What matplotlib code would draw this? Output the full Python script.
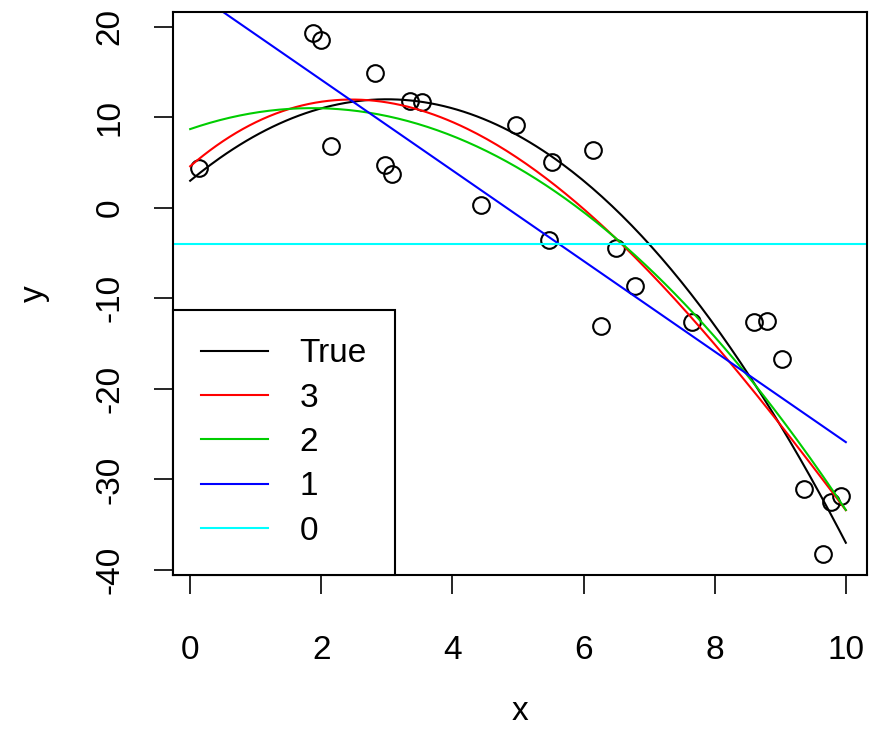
import numpy as np
import matplotlib
matplotlib.use("Agg")
import matplotlib.pyplot as plt

plt.rcParams['font.family'] = ['Liberation Sans', 'DejaVu Sans']
plt.rcParams['axes.unicode_minus'] = False

x = [0.13, 1.88, 1.99, 2.15, 2.82, 2.97, 3.08, 3.35, 3.54, 4.44, 4.97, 5.47, 5.52,
     6.14, 6.27, 6.50, 6.79, 7.66, 8.60, 8.80, 9.03, 9.36, 9.65, 9.77, 9.93]
y = [4.41, 19.34, 18.53, 6.80, 14.92, 4.78, 3.78, 11.78, 11.71, 0.27, 9.20, -3.52, 5.03,
     6.43, -13.03, -4.44, -8.61, -12.63, -12.56, -12.45, -16.72, -31.10, -38.26, -32.47, -31.84]

# true curve coefficients (highest power first)
true_coef = [-1, 6, 3]
# cubic fit (lowest power first)
cubic_coef = [4.6, 6.242, -1.4219, 0.04177]

labels = ['True', '3', '2', '1', '0']
colors = ['black', 'red', '#00CD00', 'blue', 'cyan']

xs = np.linspace(0, 10, 200)

fig = plt.figure(figsize=(8.84, 7.46), dpi=100)
ax = fig.add_axes([0.1957, 0.2292, 0.785, 0.7547])

ax.plot(x, y, 'o', mfc='none', mec='black', ms=12, mew=1.5)
ax.plot(xs, np.polyval(true_coef, xs), color=colors[0], lw=1.5, label=labels[0])
ax.plot(xs, np.polynomial.polynomial.polyval(xs, cubic_coef), color=colors[1], lw=1.5, label=labels[1])
ax.plot(xs, np.polyval(np.polyfit(x, y, 2), xs), color=colors[2], lw=1.5, label=labels[2])
ax.plot(xs, np.polyval(np.polyfit(x, y, 1), xs), color=colors[3], lw=1.5, label=labels[3])
ax.axhline(np.mean(y), color=colors[4], lw=1.5, label=labels[4])

xr = max(x) - min(x)
yr = max(y) - min(y)
ax.set_xlim(min(x) - 0.04 * xr, max(x) + 0.04 * xr)
ax.set_ylim(min(y) - 0.04 * yr, max(y) + 0.04 * yr)
ax.set_xticks([0, 2, 4, 6, 8, 10])
ax.set_yticks([-40, -30, -20, -10, 0, 10, 20])
ax.tick_params(labelsize=24, length=14, width=1.2)
ax.tick_params(axis='x', pad=29)
ax.tick_params(axis='y', pad=20)
for lab in ax.get_yticklabels():
    lab.set_rotation(90)
    lab.set_va('center')
for s in ax.spines.values():
    s.set_linewidth(1.5)
ax.set_xlabel('x', fontsize=24, labelpad=22)
ax.set_ylabel('y', fontsize=24, labelpad=32)

leg = ax.legend(loc='lower left', borderaxespad=0, fancybox=False, fontsize=24,
                handlelength=2.0, labelspacing=0.4, borderpad=0.85, handletextpad=0.95,
                framealpha=1)
leg.get_frame().set_edgecolor('black')
leg.get_frame().set_linewidth(1.5)

fig.savefig('out.png', dpi=100)
